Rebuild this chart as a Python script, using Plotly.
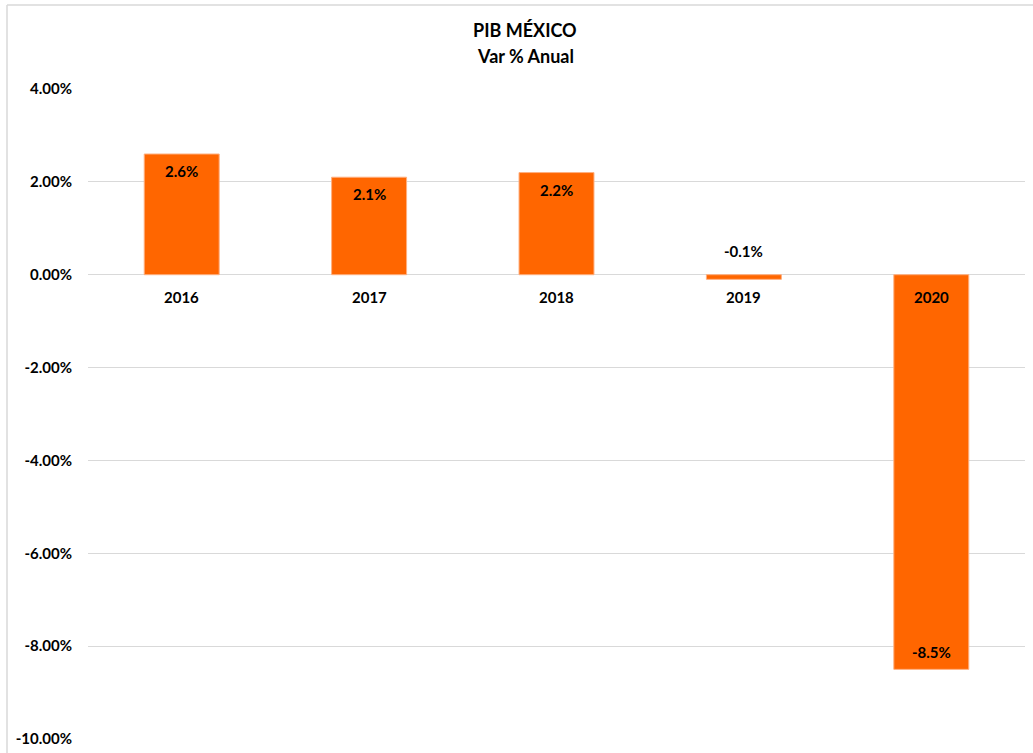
import plotly.graph_objects as go

years = ["2016", "2017", "2018", "2019", "2020"]
values = [2.6, 2.1, 2.2, -0.1, -8.5]
labels = ["2.6%", "2.1%", "2.2%", "-0.1%", "-8.5%"]
tick_vals = [4, 2, 0, -2, -4, -6, -8, -10]
tick_text = ["4.00%", "2.00%", "0.00%", "-2.00%", "-4.00%", "-6.00%", "-8.00%", "-10.00%"]
title_lines = ["PIB MÉXICO", "Var % Anual"]

FONT = "Lato, 'Open Sans', sans-serif"
W, H = 1033, 753
L, R, T, B = 88, 8, 89, 14
pw, ph = W - L - R, H - T - B

fig = go.Figure()
fig.add_trace(go.Bar(
    x=years, y=values, width=0.4,
    marker=dict(color="#FF6600", line=dict(color="#FFB080", width=1)),
    hoverinfo="x+y",
))

ann = []
for i, (yr, v, lab) in enumerate(zip(years, values, labels)):
    if v >= 1:
        ann.append(dict(x=i, y=v, yshift=-17, text=lab))
    elif v <= -1:
        ann.append(dict(x=i, y=v, yshift=17, text=lab))
    else:
        ann.append(dict(x=i, y=0, yshift=24, text=lab))
    ann.append(dict(x=i, y=0, yshift=-22, text=yr))
for a in ann:
    a.update(xref="x", yref="y", showarrow=False,
             font=dict(family=FONT, size=15, color="#000000", weight="bold"))

for line, py in zip(title_lines, [30, 56]):
    ann.append(dict(text=line, xref="paper", yref="paper",
                    x=(525 - L) / pw, y=(H - B - py) / ph,
                    xanchor="center", yanchor="middle", showarrow=False,
                    font=dict(family=FONT, size=18, color="#000000", weight="bold")))

fig.update_layout(
    width=W, height=H,
    margin=dict(l=L, r=R, t=T, b=B, autoexpand=False),
    paper_bgcolor="white", plot_bgcolor="white",
    showlegend=False,
    annotations=ann,
    xaxis=dict(type="category", range=[-0.5, len(years) - 0.5], showticklabels=False,
               showgrid=False, zeroline=False, showline=False, fixedrange=True),
    yaxis=dict(range=[-10, 4], tickvals=tick_vals, ticktext=tick_text,
               showgrid=True, gridcolor="#D9D9D9", gridwidth=1,
               zeroline=True, zerolinecolor="#D9D9D9", zerolinewidth=1,
               showline=False, ticks="", ticklen=0, ticklabelstandoff=15,
               tickfont=dict(family=FONT, size=15, color="#000000", weight="bold")),
    shapes=[
        dict(type="line", xref="paper", yref="paper",
             x0=(7 - L) / pw, x1=(7 - L) / pw,
             y0=(H - B - 5) / ph, y1=(H - B - 770) / ph,
             line=dict(color="#D9D9D9", width=1.5)),
        dict(type="line", xref="paper", yref="paper",
             x0=(7 - L) / pw, x1=(W + 12 - L) / pw,
             y0=(H - B - 5) / ph, y1=(H - B - 5) / ph,
             line=dict(color="#D9D9D9", width=1.5)),
    ],
)

fig.write_html("out.html", config={"displayModeBar": False},
               post_script="document.body.style.margin='0';document.body.style.overflow='hidden';")
